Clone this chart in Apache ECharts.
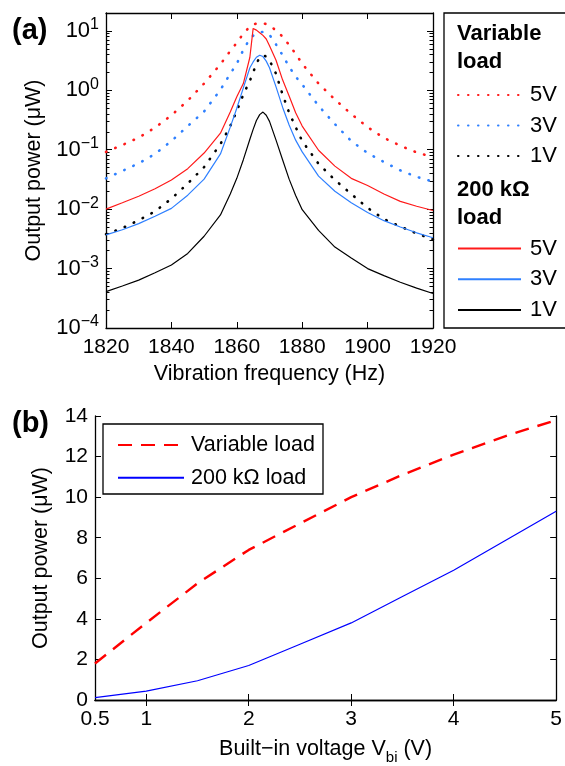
<!DOCTYPE html>
<html>
<head>
<meta charset="utf-8">
<script src="https://cdn.jsdelivr.net/npm/echarts@6/dist/echarts.min.js"></script>
<style>html,body{margin:0;padding:0;background:#fff}#c{width:565px;height:766px}</style>
</head>
<body>
<div id="c"></div>
<script>
// ---- panel (a) data ----
const freq = [1820,1825,1830,1835,1840,1845,1850,1855,1858,1860,1862,1864,1865,1866,1867,1868,1869,1870,1872,1874,1876,1878,1880,1885,1890,1895,1900,1905,1910,1915,1920];
const varLoad5V = [0.092,0.12,0.16,0.235,0.38,0.67,1.3,2.75,4.6,6.3,9.0,11.8,12.8,13.3,13.6,13.5,13.0,12.3,10.2,8.0,5.8,4.1,2.8,1.3,0.70,0.40,0.24,0.158,0.117,0.09,0.075];
const varLoad3V = [0.033,0.044,0.059,0.085,0.14,0.25,0.44,1.02,1.9,2.8,4.8,7.4,8.3,9.0,9.5,9.6,9.3,8.6,5.9,3.9,2.5,1.7,1.25,0.55,0.27,0.14,0.088,0.062,0.045,0.035,0.029];
const varLoad1V = [0.0038,0.0048,0.0065,0.0092,0.015,0.027,0.051,0.125,0.25,0.45,0.85,1.45,2.0,2.8,3.6,3.9,3.7,3.2,1.9,0.85,0.42,0.24,0.14,0.058,0.031,0.018,0.0105,0.0068,0.0051,0.0039,0.0031];
const fixLoad5V = [0.0100,0.0128,0.0165,0.022,0.031,0.048,0.088,0.19,0.43,0.78,1.3,3.6,11.0,10.3,9.3,8.4,7.3,5.6,3.2,1.5,0.8,0.42,0.25,0.098,0.053,0.033,0.025,0.018,0.0135,0.0112,0.0095];
const fixLoad3V = [0.0037,0.0045,0.0057,0.0076,0.0103,0.0172,0.032,0.085,0.24,0.5,1.1,2.4,3.0,3.6,3.9,3.7,3.1,2.4,1.14,0.52,0.26,0.145,0.092,0.036,0.020,0.0128,0.0088,0.0064,0.0050,0.0040,0.0033];
const fixLoad1V = [4.1e-4,5.1e-4,6.4e-4,8.5e-4,1.15e-3,1.8e-3,3.5e-3,8.0e-3,0.018,0.033,0.068,0.15,0.22,0.31,0.39,0.43,0.38,0.30,0.145,0.068,0.032,0.017,0.0098,0.0044,0.0023,0.0015,0.001,7.6e-4,5.9e-4,4.7e-4,3.8e-4];
const decadeTicks = [1e-4,1e-3,1e-2,1e-1,1,10];

// ---- panel (b) data ----
const vbi = [0.5,1,1.5,2,2.5,3,3.5,4,4.5,5];
const varLoadP = [1.8,3.8,5.75,7.4,8.7,10.0,11.1,12.1,13.0,13.8];
const fixLoadP = [0.12,0.44,0.95,1.7,2.75,3.8,5.1,6.4,7.85,9.3];
const vbiLabels = [0.5,1,2,3,4,5];
const vbiTicks = [1,2,3,4];

const FONT = 'Liberation Sans, Arial, sans-serif';
const minorTicks = [];
for (let e = -4; e <= 1; e++) for (let m = 2; m <= 9; m++) { const v = m * Math.pow(10, e); if (v <= 20) minorTicks.push(+v.toPrecision(3)); }
minorTicks.push(20);

const pairs = (xs, ys) => xs.map((x, i) => [x, ys[i]]);
const axLine = { show: true, lineStyle: { color: '#000', width: 1.3 } };
const RED = '#ff1a1a', BLUE = '#2f80ff', BLK = '#000';
const dotted = c => ({ color: c, width: 2.6, type: [0.5, 9.5], cap: 'round' });

const chart = echarts.init(document.getElementById('c'), null, { renderer: 'canvas' });
const sup = v => { const e = Math.round(Math.log10(v)); return '{b|10}{s|' + (e < 0 ? '\u2212' + (-e) : e) + '}'; };

const logAxis = (pos, opts) => Object.assign({
  gridIndex: 0, type: 'log', logBase: 10, min: 1e-4, max: 20, position: pos,
  axisLine: axLine, splitLine: { show: false }, axisLabel: { show: false },
  axisTick: { inside: true, length: 6, lineStyle: { color: '#000', width: 1 }, customValues: decadeTicks }
}, opts);

const legendCommon = { orient: 'vertical', padding: 0, itemHeight: 14, selectedMode: false,
  itemStyle: { opacity: 0, borderWidth: 0 } };

chart.setOption({
  animation: false,
  textStyle: { fontFamily: FONT, color: '#000' },
  grid: [
    { left: 106, top: 13, width: 327, height: 315, show: false },
    { left: 95, top: 416, width: 462, height: 290, show: false }
  ],
  xAxis: [
    { gridIndex: 0, type: 'value', position: 'bottom', min: 1820, max: 1920, interval: 20,
      axisLine: axLine, splitLine: { show: false },
      axisTick: { inside: true, length: 6, lineStyle: { color: '#000' } },
      axisLabel: { fontSize: 21, color: '#000', margin: 9, fontFamily: FONT, formatter: v => String(v) },
      name: 'Vibration frequency (Hz)', nameLocation: 'middle', nameGap: 35,
      nameTextStyle: { fontSize: 21.5, color: '#000', fontFamily: FONT } },
    { gridIndex: 0, type: 'value', position: 'top', min: 1820, max: 1920, interval: 20,
      axisLine: axLine, splitLine: { show: false }, axisLabel: { show: false },
      axisTick: { inside: true, length: 6, lineStyle: { color: '#000' } } },
    { gridIndex: 1, type: 'value', position: 'bottom', min: 0.5, max: 5,
      axisLine: axLine, splitLine: { show: false },
      axisTick: { inside: true, length: 6, lineStyle: { color: '#000' }, customValues: vbiTicks },
      axisLabel: { fontSize: 21, color: '#000', margin: 9, fontFamily: FONT, customValues: vbiLabels,
        showMinLabel: true, showMaxLabel: true, formatter: v => String(v) },
      name: '{m|Built\u2212in voltage V}{sub|bi}{m| (V)}', nameLocation: 'middle', nameGap: 33,
      nameTextStyle: { fontFamily: FONT, color: '#000', rich: {
        m: { fontSize: 21.5, lineHeight: 22, verticalAlign: 'middle', fontFamily: FONT, color: '#000' },
        sub: { fontSize: 15, lineHeight: 32, verticalAlign: 'bottom', fontFamily: FONT, color: '#000' } } } },
    { gridIndex: 1, type: 'value', position: 'top', min: 0.5, max: 5,
      axisLine: axLine, splitLine: { show: false }, axisLabel: { show: false },
      axisTick: { inside: true, length: 6, lineStyle: { color: '#000' }, customValues: vbiTicks } }
  ],
  yAxis: [
    logAxis('left', {
      axisLabel: { show: true, customValues: decadeTicks, formatter: sup, margin: 7, color: '#000',
        rich: { b: { fontSize: 22, lineHeight: 22, verticalAlign: 'middle', fontFamily: FONT, color: '#000' },
                s: { fontSize: 16, lineHeight: 28, verticalAlign: 'top', fontFamily: FONT, color: '#000' } } },
      name: 'Output power (\u03bcW)', nameLocation: 'middle', nameGap: 58,
      nameTextStyle: { fontSize: 21.5, color: '#000', fontFamily: FONT } }),
    logAxis('left', { axisLine: { show: false }, axisTick: { inside: true, length: 3.5, lineStyle: { color: '#000' }, customValues: minorTicks } }),
    logAxis('right', {}),
    logAxis('right', { axisLine: { show: false }, axisTick: { inside: true, length: 3.5, lineStyle: { color: '#000' }, customValues: minorTicks } }),
    { gridIndex: 1, type: 'value', position: 'left', min: 0, max: 14, interval: 2,
      axisLine: axLine, splitLine: { show: false },
      axisTick: { inside: true, length: 6, lineStyle: { color: '#000' } },
      axisLabel: { fontSize: 21, color: '#000', margin: 7, fontFamily: FONT },
      name: 'Output power (\u03bcW)', nameLocation: 'middle', nameGap: 43,
      nameTextStyle: { fontSize: 21.5, color: '#000', fontFamily: FONT } },
    { gridIndex: 1, type: 'value', position: 'right', min: 0, max: 14, interval: 2,
      axisLine: axLine, splitLine: { show: false }, axisLabel: { show: false },
      axisTick: { inside: true, length: 6, lineStyle: { color: '#000' } } }
  ],
  legend: [
    Object.assign({ data: ['Variable load 5V', 'Variable load 3V', 'Variable load 1V'],
      left: 457, top: 84, itemWidth: 63, itemGap: 8.5,
      formatter: n => n.slice(-2), textStyle: { fontSize: 22, lineHeight: 22, color: '#000', fontFamily: FONT, padding: [0, 0, 0, 4] } }, legendCommon),
    Object.assign({ data: ['200 k\u03a9 load 5V', '200 k\u03a9 load 3V', '200 k\u03a9 load 1V'],
      left: 457, top: 237.5, itemWidth: 63, itemGap: 8.8,
      formatter: n => n.slice(-2), textStyle: { fontSize: 22, lineHeight: 22, color: '#000', fontFamily: FONT, padding: [0, 0, 0, 4] } }, legendCommon),
    Object.assign({ data: ['Variable load', '200 k\u03a9 load'],
      left: 117, top: 434, itemWidth: 66, itemGap: 10.7,
      textStyle: { fontSize: 21.5, lineHeight: 22, color: '#000', fontFamily: FONT, padding: [0, 0, 0, 2] } }, legendCommon)
  ],
  graphic: [
    { type: 'text', left: 12, top: 16, style: { text: '(a)', font: 'bold 29px ' + FONT, fill: '#000' } },
    { type: 'text', left: 12, top: 409, style: { text: '(b)', font: 'bold 29px ' + FONT, fill: '#000' } },
    { type: 'rect', shape: { x: 444, y: 13, width: 140, height: 315 }, style: { fill: 'none', stroke: '#000', lineWidth: 1.3 } },
    { type: 'text', x: 457, y: 20, style: { text: 'Variable\nload', font: 'bold 22px ' + FONT, lineHeight: 27.7, fill: '#000' } },
    { type: 'text', x: 457, y: 176, style: { text: '200 k\u03a9\nload', font: 'bold 22px ' + FONT, lineHeight: 27.7, fill: '#000' } },
    { type: 'rect', shape: { x: 103, y: 424, width: 220, height: 70 }, style: { fill: 'none', stroke: '#000', lineWidth: 1.3 } }
  ],
  series: [
    { name: 'Variable load 5V', type: 'line', xAxisIndex: 0, yAxisIndex: 0, symbol: 'none', data: pairs(freq, varLoad5V), lineStyle: dotted(RED), itemStyle: { color: RED } },
    { name: 'Variable load 3V', type: 'line', xAxisIndex: 0, yAxisIndex: 0, symbol: 'none', data: pairs(freq, varLoad3V), lineStyle: dotted(BLUE), itemStyle: { color: BLUE } },
    { name: 'Variable load 1V', type: 'line', xAxisIndex: 0, yAxisIndex: 0, symbol: 'none', data: pairs(freq, varLoad1V), lineStyle: dotted(BLK), itemStyle: { color: BLK } },
    { name: '200 k\u03a9 load 5V', type: 'line', xAxisIndex: 0, yAxisIndex: 0, symbol: 'none', data: pairs(freq, fixLoad5V), lineStyle: { color: RED, width: 1.2 }, itemStyle: { color: RED } },
    { name: '200 k\u03a9 load 3V', type: 'line', xAxisIndex: 0, yAxisIndex: 0, symbol: 'none', data: pairs(freq, fixLoad3V), lineStyle: { color: BLUE, width: 1.2 }, itemStyle: { color: BLUE } },
    { name: '200 k\u03a9 load 1V', type: 'line', xAxisIndex: 0, yAxisIndex: 0, symbol: 'none', data: pairs(freq, fixLoad1V), lineStyle: { color: BLK, width: 1.2 }, itemStyle: { color: BLK } },
    { name: 'Variable load', type: 'line', xAxisIndex: 2, yAxisIndex: 4, symbol: 'none', data: pairs(vbi, varLoadP), lineStyle: { color: '#ff0000', width: 2.4, type: [14, 9] }, itemStyle: { color: '#ff0000' } },
    { name: '200 k\u03a9 load', type: 'line', xAxisIndex: 2, yAxisIndex: 4, symbol: 'none', data: pairs(vbi, fixLoadP), lineStyle: { color: '#0000ff', width: 1.2 }, itemStyle: { color: '#0000ff' } }
  ]
});
</script>
</body>
</html>
